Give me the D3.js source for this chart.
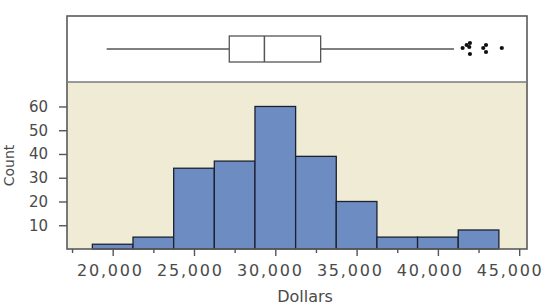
<!DOCTYPE html>
<html>
<head>
<meta charset="utf-8">
<script src="https://cdn.jsdelivr.net/npm/d3@7"></script>
<style>
    body { margin: 0; background: #fff; }
    text { font-family: "DejaVu Sans", sans-serif; fill: #4a4a4a; }
</style>
</head>
<body>
<div id="chart"></div>
<script>
(function () {

    // histogram bins (dollars) and counts
    var binEdges = [18750, 21250, 23750, 26250, 28750, 31250, 33750, 36250, 38750, 41250, 43750];
    var counts = [2, 5, 34, 37, 60, 39, 20, 5, 5, 8];

    // boxplot summary: low whisker, q1, median, q3, high whisker
    var boxStats = [19630, 27170, 29330, 32790, 40990];
    var outliers = [41520, 41770, 41970, 41930, 41970, 42790, 42960, 42960, 43930];

    var xTicks = [20000, 25000, 30000, 35000, 40000, 45000];
    var xMinorTicks = [17500, 22500, 27500, 32500, 37500, 42500];
    var yTicks = [10, 20, 30, 40, 50, 60];

    var W = 552, H = 306;
    var left = 67, right = 527, top = 16, split = 82, bottom = 249;

    var svg = d3.select("#chart").append("svg")
        .attr("width", W)
        .attr("height", H);

    var x = d3.scaleLinear().domain([17190, 45480]).range([left, right]);
    var y = d3.scaleLinear().domain([0, 70.3]).range([bottom, split]);
    // labels in the picture sit a little left of their ticks, more so to the right
    var xLabel = d3.scaleLinear().domain([20000, 45000]).range([x(20000) - 3.7, x(45000) - 10.4]);

    // panels
    svg.append("rect")
        .attr("x", left).attr("y", top)
        .attr("width", right - left).attr("height", split - top)
        .attr("fill", "#fff");
    svg.append("rect")
        .attr("x", left).attr("y", split)
        .attr("width", right - left).attr("height", bottom - split)
        .attr("fill", "#efebd5");

    // bars
    var bins = counts.map(function (c, i) {
        return {x0: binEdges[i], x1: binEdges[i + 1], n: c};
    });
    svg.append("g").selectAll("rect.bar")
        .data(bins).enter().append("rect")
        .attr("class", "bar")
        .attr("x", function (d) { return x(d.x0); })
        .attr("y", function (d) { return y(d.n); })
        .attr("width", function (d) { return x(d.x1) - x(d.x0); })
        .attr("height", function (d) { return y(0) - y(d.n); })
        .attr("fill", "#6d8cc2")
        .attr("stroke", "#1c2130")
        .attr("stroke-width", 1.3);

    // boxplot
    var cy = 49, bh = 26, line = "#555";
    var bp = svg.append("g");
    bp.append("line")
        .attr("x1", x(boxStats[0])).attr("x2", x(boxStats[1]))
        .attr("y1", cy).attr("y2", cy)
        .attr("stroke", line).attr("stroke-width", 1.3);
    bp.append("line")
        .attr("x1", x(boxStats[3])).attr("x2", x(boxStats[4]))
        .attr("y1", cy).attr("y2", cy)
        .attr("stroke", line).attr("stroke-width", 1.3);
    bp.append("rect")
        .attr("x", x(boxStats[1])).attr("y", cy - bh / 2)
        .attr("width", x(boxStats[3]) - x(boxStats[1])).attr("height", bh)
        .attr("fill", "#fff").attr("stroke", line).attr("stroke-width", 1.3);
    bp.append("line")
        .attr("x1", x(boxStats[2])).attr("x2", x(boxStats[2]))
        .attr("y1", cy - bh / 2).attr("y2", cy + bh / 2)
        .attr("stroke", line).attr("stroke-width", 1.5);

    // outlier symbols, stacked a little so they do not overlap
    var jitter = [-1, -4, -6, -2, 5, -1, -4, 3, -1];
    bp.selectAll("circle.out")
        .data(outliers).enter().append("circle")
        .attr("class", "out")
        .attr("cx", function (d) { return x(d); })
        .attr("cy", function (d, i) { return cy + jitter[i]; })
        .attr("r", 2.1)
        .attr("fill", "#111");

    // frame
    svg.append("rect")
        .attr("x", left).attr("y", top)
        .attr("width", right - left).attr("height", bottom - top)
        .attr("fill", "none").attr("stroke", "#5a5a5a").attr("stroke-width", 1.6);
    svg.append("line")
        .attr("x1", left).attr("x2", right)
        .attr("y1", split).attr("y2", split)
        .attr("stroke", "#7a7a7a").attr("stroke-width", 1.6);

    // x axis
    var gx = svg.append("g").attr("transform", "translate(0," + bottom + ")");
    gx.call(d3.axisBottom(x).tickValues(xMinorTicks).tickSize(4).tickFormat(""));
    gx.append("g").call(d3.axisBottom(x).tickValues(xTicks).tickSize(7).tickPadding(9)
        .tickFormat(d3.format(",")));
    gx.selectAll(".domain").remove();
    gx.selectAll("line").attr("stroke", "#555").attr("stroke-width", 1.4);
    gx.selectAll("text")
        .attr("fill", "#4a4a4a")
        .attr("x", function (d) { return d ? xLabel(d) - x(d) + 0.9 : 0; })
        .style("font-size", "16px")
        .style("letter-spacing", "1.8px");

    // y axis
    var gy = svg.append("g").attr("transform", "translate(" + left + ",0)");
    gy.call(d3.axisLeft(y).tickValues(yTicks).tickSize(8).tickPadding(11));
    gy.selectAll(".domain").remove();
    gy.selectAll("line").attr("stroke", "#555").attr("stroke-width", 1.4);
    gy.selectAll("text")
        .attr("fill", "#4a4a4a")
        .style("font-size", "15px");

    // axis titles
    svg.append("text")
        .attr("x", 305).attr("y", 302)
        .attr("text-anchor", "middle")
        .style("font-size", "16px")
        .text("Dollars");
    svg.append("text")
        .attr("transform", "translate(14," + ((split + bottom) / 2) + ") rotate(-90)")
        .attr("text-anchor", "middle")
        .style("font-size", "14px")
        .text("Count");
})();
</script>
</body>
</html>
